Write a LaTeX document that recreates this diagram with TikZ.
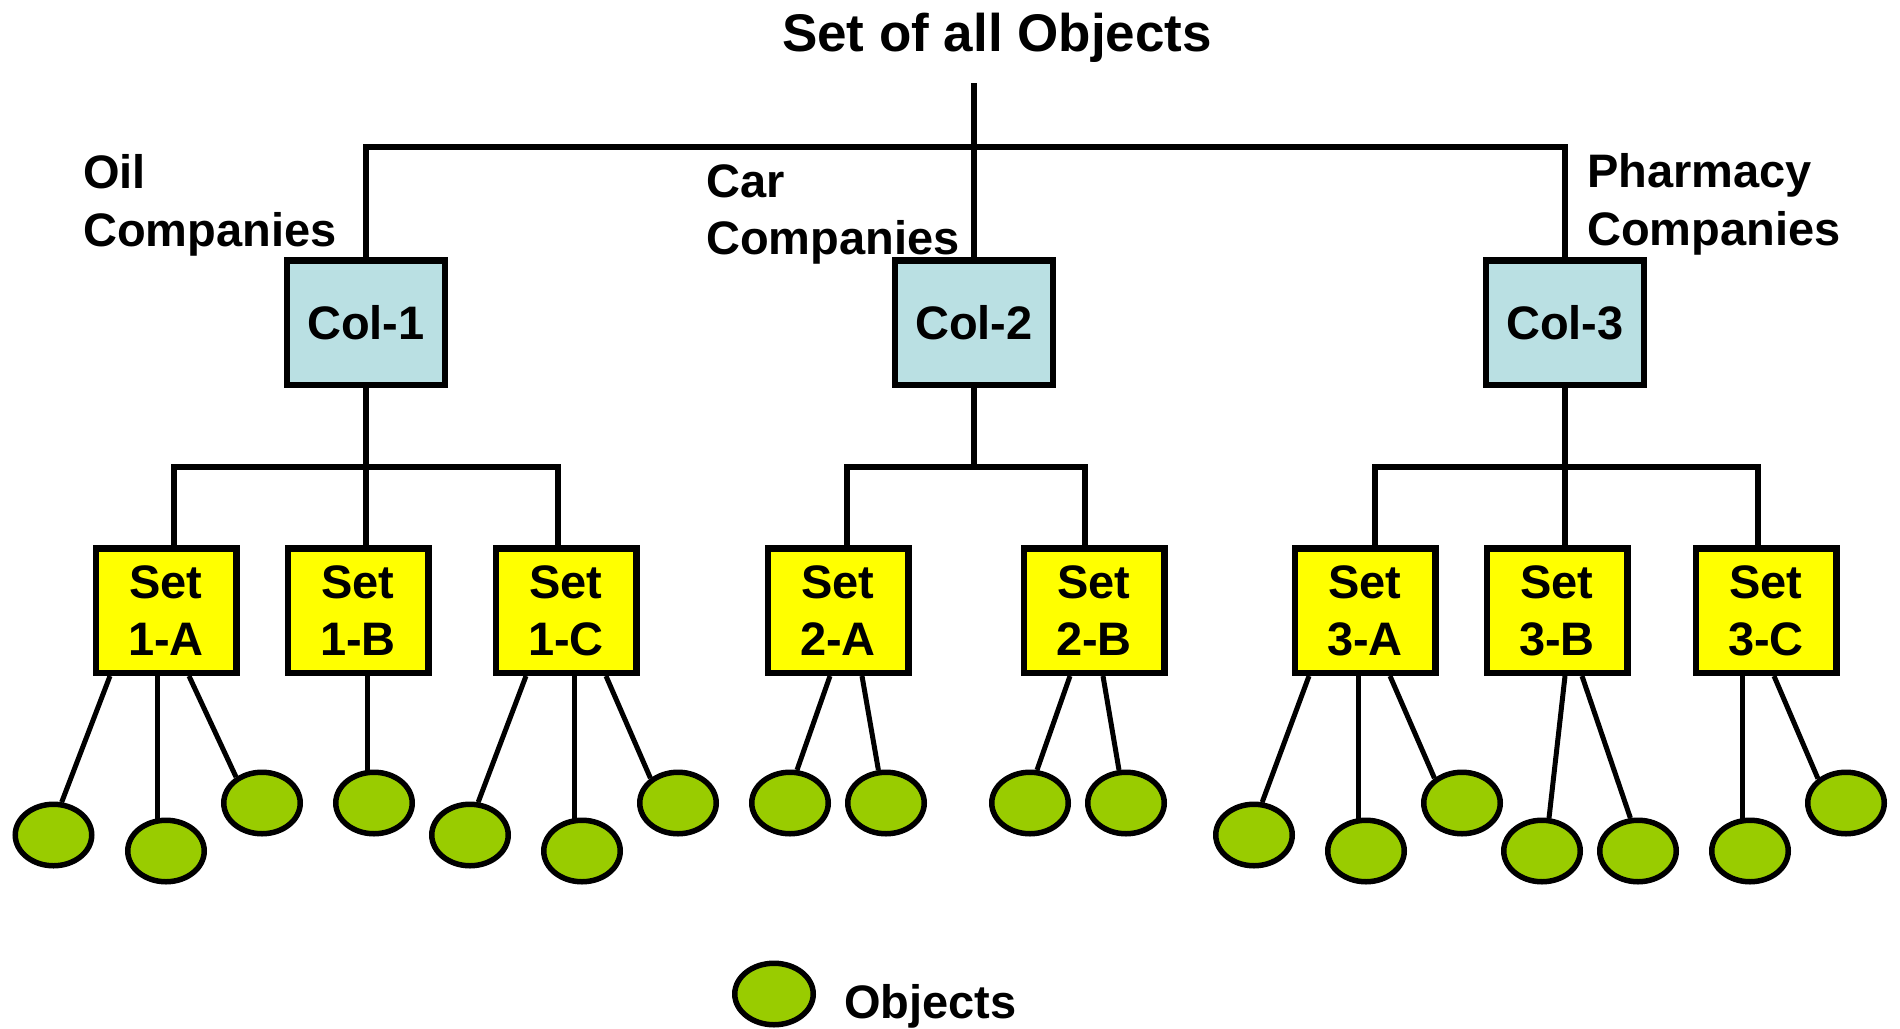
\documentclass[tikz,border=0pt]{standalone}
\usepackage{fontspec}
\setmainfont{Liberation Sans}
\usetikzlibrary{shapes.geometric,backgrounds}

\definecolor{colblue}{HTML}{BAE0E3}
\definecolor{setyellow}{HTML}{FFFF00}
\definecolor{objgreen}{HTML}{99CC00}

\newcommand{\labelfont}{\bfseries\fontsize{47}{57}\selectfont}

\tikzset{
  colbox/.style={draw, line width=6.5pt, fill=colblue, minimum width=158pt,
    minimum height=124.5pt, inner sep=0pt, font=\labelfont},
  setbox/.style={draw, line width=6.5pt, fill=setyellow, minimum width=140.5pt,
    minimum height=124.5pt, inner sep=0pt, align=center, font=\labelfont},
  obj/.style={ellipse, draw, line width=5.5pt, fill=objgreen, minimum width=76.5pt,
    minimum height=61.5pt, inner sep=0pt},
  lbl/.style={anchor=base west, inner sep=0pt, font=\labelfont},
  tree/.style={line width=6pt},
  link/.style={line width=5pt}
}

\begin{document}
\begin{tikzpicture}[x=1pt, y=-1pt, line join=miter]
  \useasboundingbox (0,0) rectangle (1900,1028);

  % title and group labels
  \node[anchor=base, inner sep=0pt, font=\bfseries\fontsize{53}{64}\selectfont]
    (title) at (997,51) {Set of all Objects};
  \node[lbl] (oil)   at (83,188)   {Oil};
  \node[lbl] (oilc)  at (83,246)   {Companies};
  \node[lbl] (car)   at (706,197)  {Car};
  \node[lbl] (carc)  at (706,254)  {Companies};
  \node[lbl] (pha)   at (1587,187) {Pharmacy};
  \node[lbl] (phac)  at (1587,245) {Companies};

  % collections
  \node[colbox] (col1) at (366,322.5)  {Col-1};
  \node[colbox] (col2) at (974,322.5)  {Col-2};
  \node[colbox] (col3) at (1565,322.5) {Col-3};

  % sets
  \node[setbox] (s1a) at (166,610.5)  {Set\\1-A};
  \node[setbox] (s1b) at (358,610.5)  {Set\\1-B};
  \node[setbox] (s1c) at (566,610.5)  {Set\\1-C};
  \node[setbox] (s2a) at (838,610.5)  {Set\\2-A};
  \node[setbox] (s2b) at (1094,610.5) {Set\\2-B};
  \node[setbox] (s3a) at (1365,610.5) {Set\\3-A};
  \node[setbox] (s3b) at (1557,610.5) {Set\\3-B};
  \node[setbox] (s3c) at (1766,610.5) {Set\\3-C};

  % objects
  \node[obj] (o1)  at (53.5,835) {};
  \node[obj] (o2)  at (166,851)  {};
  \node[obj] (o3)  at (262,803)  {};
  \node[obj] (o4)  at (374,803)  {};
  \node[obj] (o5)  at (470,835)  {};
  \node[obj] (o6)  at (582,851)  {};
  \node[obj] (o7)  at (678,803)  {};
  \node[obj] (o8)  at (790,803)  {};
  \node[obj] (o9)  at (886,803)  {};
  \node[obj] (o10) at (1030,803) {};
  \node[obj] (o11) at (1126,803) {};
  \node[obj] (o12) at (1254,835) {};
  \node[obj] (o13) at (1366,851) {};
  \node[obj] (o14) at (1462,803) {};
  \node[obj] (o15) at (1542,851) {};
  \node[obj] (o16) at (1638,851) {};
  \node[obj] (o17) at (1750,851) {};
  \node[obj] (o18) at (1846,803) {};

  % legend
  \node[obj, minimum width=78.5pt] (legobj) at (774,994) {};
  \node[lbl] (legtxt) at (844,1018) {Objects};

  % branch points
  \coordinate (root)   at (974,83);
  \coordinate (topbar) at (974,147);
  \coordinate (bar1)   at (366,467);
  \coordinate (bar2)   at (974,467);
  \coordinate (bar3)   at (1565,467);

  \begin{scope}[on background layer]
    % top level
    \draw[tree] (root) -- (col2.north);
    \draw[tree] (col1.north) |- (topbar) -| (col3.north);

    % collection 1
    \draw[tree] (col1.south) -- (col1.south |- s1b.north);
    \draw[tree] ([xshift=8pt]s1a.north) |- (bar1) -| ([xshift=-8pt]s1c.north);
    % collection 2
    \draw[tree] (col2.south) -- (bar2);
    \draw[tree] ([xshift=9pt]s2a.north) |- (bar2) -| ([xshift=-9pt]s2b.north);
    % collection 3
    \draw[tree] (col3.south) -- (col3.south |- s3b.north);
    \draw[tree] ([xshift=10pt]s3a.north) |- (bar3) -| ([xshift=-8pt]s3c.north);

    % sets to objects
    \draw[link] ([xshift=-56pt]s1a.south) -- (o1.76);
    \draw[link] ([xshift=-9pt]s1a.south) |- (o2.center);
    \draw[link] ([xshift=23pt]s1a.south) -- (o3.135);
    \draw[link] ([xshift=9pt]s1b.south) |- (o4.center);
    \draw[link] ([xshift=-40pt]s1c.south) -- (o5.76);
    \draw[link] ([xshift=8pt]s1c.south) |- (o6.center);
    \draw[link] ([xshift=40pt]s1c.south) -- (o7.138);
    \draw[link] ([xshift=-8pt]s2a.south) -- (o8.78);
    \draw[link] ([xshift=24pt]s2a.south) -- (o9.103);
    \draw[link] ([xshift=-24pt]s2b.south) -- (o10.78);
    \draw[link] ([xshift=9pt]s2b.south) -- (o11.102);
    \draw[link] ([xshift=-56pt]s3a.south) -- (o12.76);
    \draw[link] ([xshift=-7pt]s3a.south) |- (o13.center);
    \draw[link] ([xshift=25pt]s3a.south) -- (o14.138);
    \draw[link] ([xshift=8pt]s3b.south) -- (o15.78);
    \draw[link] ([xshift=25pt]s3b.south) -- (o16.103);
    \draw[link] ([xshift=-24pt]s3c.south) |- (o17.center);
    \draw[link] ([xshift=8pt]s3c.south) -- (o18.139);
  \end{scope}
\end{tikzpicture}
\end{document}
